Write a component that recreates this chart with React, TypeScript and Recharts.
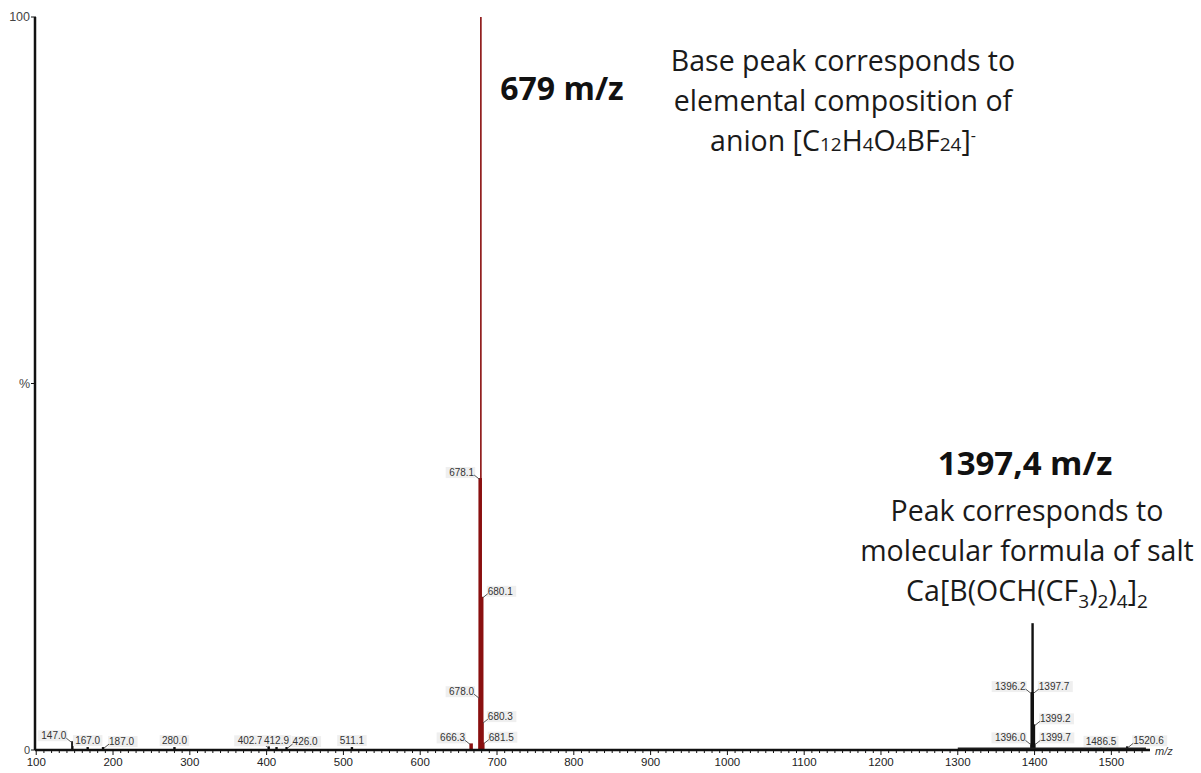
import React from 'react';
import { ComposedChart, Bar, XAxis, YAxis, LabelList, ReferenceLine } from 'recharts';

// centroided peaks (m/z, % relative intensity)
const peakMz = [
  147.0, 167.0, 187.0, 280.0, 402.7, 412.9, 426.0, 511.1,
  666.3, 678.0, 678.1, 679.0, 680.1, 680.3, 681.5,
  1396.0, 1396.2, 1397.4, 1397.7, 1399.2, 1399.7, 1486.5, 1520.6,
];
const peakIntensity = [
  1.2, 0.4, 0.4, 0.4, 0.5, 0.4, 0.4, 0.4,
  0.9, 7.2, 37.1, 100, 20.9, 3.8, 1.0,
  0.9, 7.9, 17.3, 7.9, 3.5, 0.9, 0.3, 0.5,
];
// peaks whose label is not printed on the trace
const unlabeledPeaks = [679.0, 1397.4];
// label placement relative to the stick (anything not listed goes to the right)
const leftLabelPeaks = [147.0, 402.7, 666.3, 678.0, 678.1, 1396.0, 1396.2];
const centeredLabelPeaks = [167.0, 280.0, 412.9, 511.1, 1486.5];

const xMajorTicks = [100, 200, 300, 400, 500, 600, 700, 800, 900, 1000, 1100, 1200, 1300, 1400, 1500];
const yTicks = [0, 50, 100];

const data = peakMz.map((mz, i) => ({ mz, intensity: peakIntensity[i] }));
// minor ticks every 10 between the labelled hundreds
const xTicks: number[] = [];
for (let t = 100; t <= 1540; t += 10) xTicks.push(t);

const LABEL_FONT = '"Liberation Sans", Arial, sans-serif';
const TEXT_FONT = '"Open Sans", sans-serif';

const isAnion = (mz: number) => mz > 650 && mz < 700;

const PeakShape = (props: any) => {
  const { x, y, width, height, payload } = props;
  const cx = x + width / 2;
  const red = isAnion(payload.mz);
  const w = payload.intensity >= 99 ? 1.6 : red ? 3.5 : 2.4;
  return (
    <rect x={cx - w / 2} y={y} width={w} height={Math.max(height, 0)} fill={red ? '#8a1010' : '#111'} />
  );
};

const PeakLabel = (props: any) => {
  const vb = props.viewBox || props;
  const mz = props.value as number;
  if (unlabeledPeaks.includes(mz)) return null;
  const cx = vb.x + vb.width / 2;
  const top = vb.y;
  const text = mz.toFixed(1);
  const tw = text.length * 5.5;
  if (centeredLabelPeaks.includes(mz)) {
    return (
      <g>
        <rect x={cx - tw / 2 - 1} y={top - 12} width={tw + 2} height={11} fill="#efefef" />
        <text x={cx} y={top - 3} textAnchor="middle" fontSize={10} fill="#333" fontFamily={LABEL_FONT}>
          {text}
        </text>
      </g>
    );
  }
  const left = leftLabelPeaks.includes(mz);
  const dir = left ? -1 : 1;
  const tx = cx + dir * 6;
  return (
    <g>
      <rect x={left ? tx - tw - 1 : tx - 1} y={top - 11} width={tw + 2} height={11} fill="#efefef" />
      <line x1={cx + dir * 1} y1={top + 1} x2={cx + dir * 6} y2={top - 3} stroke="#555" strokeWidth={1} />
      <text x={tx} y={top - 2} textAnchor={left ? 'end' : 'start'} fontSize={10} fill="#333" fontFamily={LABEL_FONT}>
        {text}
      </text>
    </g>
  );
};

const XTick = (props: any) => {
  const { x, y, payload } = props;
  const major = xMajorTicks.includes(payload.value);
  return (
    <g>
      <line x1={x} x2={x} y1={y - 1} y2={y + (major ? 5 : 3)} stroke="#111" strokeWidth={1} />
      {major && (
        <text x={x} y={y + 16} textAnchor="middle" fontSize={11.5} fill="#222" fontFamily={LABEL_FONT}>
          {payload.value}
        </text>
      )}
    </g>
  );
};

const YTick = (props: any) => {
  const { x, y, payload } = props;
  const v = payload.value;
  const label = v === 50 ? '%' : String(v);
  return (
    <g>
      <line x1={x - 4} x2={x + 1} y1={y} y2={y} stroke="#111" strokeWidth={1} />
      <text x={x - 5} y={y + 4} textAnchor="end" fontSize={v === 0 ? 11 : 12.5} fill="#444" fontFamily={LABEL_FONT}>
        {label}
      </text>
    </g>
  );
};

const sub = { fontSize: 19 };
const low = { fontSize: 19, lineHeight: 0 };

export default function App() {
  return (
    <div style={{ position: 'absolute', left: 0, top: 0, width: 1201, height: 773, background: '#fff' }}>
      <ComposedChart
        width={1201}
        height={773}
        data={data}
        margin={{ top: 17, right: 51, left: 0, bottom: 3 }}
      >
        <XAxis
          dataKey="mz"
          type="number"
          domain={[98.4, 1550.3]}
          ticks={xTicks}
          interval={0}
          tick={<XTick />}
          tickLine={false}
          tickSize={0}
          tickMargin={0}
          height={20}
          axisLine={{ stroke: '#111', strokeWidth: 2.5 }}
          allowDataOverflow
        />
        <YAxis
          type="number"
          domain={[0, 100]}
          ticks={yTicks}
          tick={<YTick />}
          tickLine={false}
          tickSize={0}
          tickMargin={0}
          width={35}
          axisLine={{ stroke: '#111', strokeWidth: 2.5 }}
        />
        <ReferenceLine
          segment={[{ x: 1300, y: 0.2 }, { x: 1545, y: 0.2 }]}
          stroke="#222"
          strokeWidth={2}
        />
        <Bar dataKey="intensity" barSize={3} shape={<PeakShape />} isAnimationActive={false}>
          <LabelList dataKey="mz" content={<PeakLabel />} />
        </Bar>
      </ComposedChart>

      <div style={{ position: 'absolute', left: 1155, top: 745, fontSize: 11, fontStyle: 'italic', color: '#333', fontFamily: LABEL_FONT }}>
        m/z
      </div>

      <div style={{ position: 'absolute', left: 462, top: 68, width: 200, textAlign: 'center', fontFamily: TEXT_FONT, fontWeight: 700, fontSize: 32, lineHeight: '40px', color: '#111' }}>
        679 m/z
      </div>
      <div style={{ position: 'absolute', left: 543, top: 40, width: 600, textAlign: 'center', fontFamily: TEXT_FONT, fontSize: 28.5, lineHeight: '40px', color: '#1a1a1a' }}>
        <div>Base peak corresponds to</div>
        <div>elemental composition of</div>
        <div style={{ height: 40 }}>
          anion [C<span style={sub}>12</span>H<span style={sub}>4</span>O<span style={sub}>4</span>BF
          <span style={sub}>24</span>]<sup style={{ fontSize: 16, lineHeight: 0 }}>-</sup>
        </div>
      </div>

      <div style={{ position: 'absolute', left: 875, top: 443, width: 300, textAlign: 'center', fontFamily: TEXT_FONT, fontWeight: 700, fontSize: 33, lineHeight: '40px', color: '#111' }}>
        1397,4 m/z
      </div>
      <div style={{ position: 'absolute', left: 727, top: 490, width: 600, textAlign: 'center', fontFamily: TEXT_FONT, fontSize: 28.5, lineHeight: '40px', color: '#1a1a1a' }}>
        <div>Peak corresponds to</div>
        <div>molecular formula of salt</div>
        <div style={{ height: 40 }}>
          Ca[B(OCH(CF<sub style={low}>3</sub>)<sub style={low}>2</sub>)<sub style={low}>4</sub>]<sub style={low}>2</sub>
        </div>
      </div>
    </div>
  );
}
